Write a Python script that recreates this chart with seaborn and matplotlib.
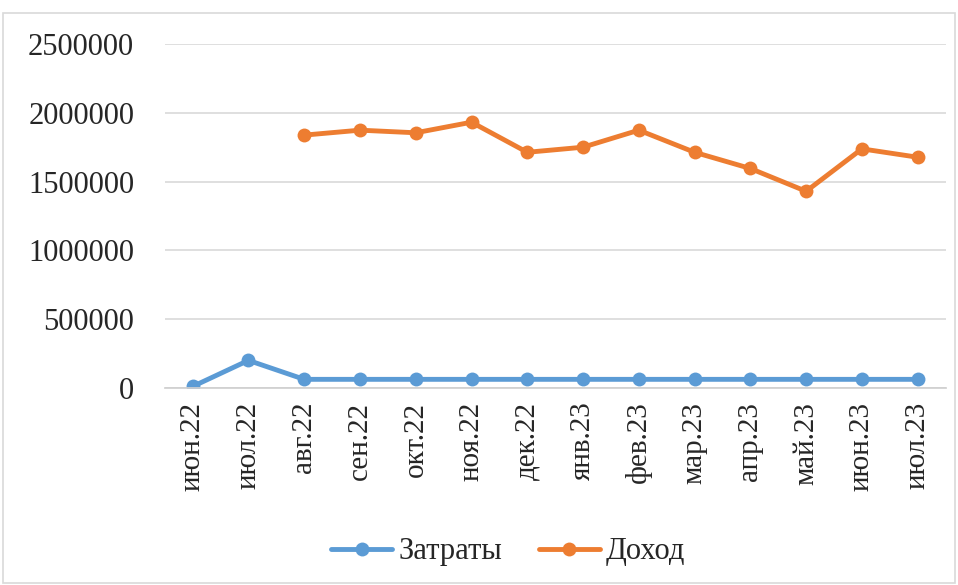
import numpy as np
import pandas as pd
import matplotlib
matplotlib.use("Agg")
import matplotlib.pyplot as plt
import seaborn as sns

# -----------------------------
# data
# -----------------------------
months = ["июн.22", "июл.22", "авг.22", "сен.22", "окт.22", "ноя.22", "дек.22",
          "янв.23", "фев.23", "мар.23", "апр.23", "май.23", "июн.23", "июл.23"]
costs = [10000, 200000, 62000, 62000, 62000, 62000, 62000,
         62000, 62000, 62000, 62000, 62000, 62000, 62000]
income = [np.nan, np.nan, 1840000, 1876000, 1857000, 1934000, 1715000,
          1752000, 1876000, 1715000, 1597000, 1431000, 1740000, 1679000]

df = pd.DataFrame({
    "month": months * 2,
    "value": costs + income,
    "series": ["Затраты"] * len(months) + ["Доход"] * len(months),
})
df["x"] = list(range(len(months))) * 2

# -----------------------------
# plot
# -----------------------------
sns.set_theme(style="white")
plt.rcParams["font.family"] = ["Liberation Serif", "DejaVu Serif"]

fig = plt.figure(figsize=(9.58, 5.85), dpi=100)
ax = fig.add_axes([0.172, 0.337, 0.815, 0.587])

sns.lineplot(data=df, x="x", y="value", hue="series",
             palette={"Затраты": "#5B9BD5", "Доход": "#ED7D31"},
             marker="o", markersize=10, markeredgewidth=0, linewidth=3.5,
             ax=ax)

ax.set_ylim(0, 2500000)
ax.set_yticks(range(0, 2500001, 500000))
ax.set_yticklabels([str(v) for v in range(0, 2500001, 500000)], fontsize=22)
ax.set_xlim(-0.5, len(months) - 0.5)
ax.set_xticks(range(len(months)))
ax.set_xticklabels(months, rotation=90, fontsize=21)
ax.set_xticks(np.arange(-0.5, len(months), 1), minor=True)
ax.tick_params(axis="x", which="major", length=0, pad=10)
ax.tick_params(axis="x", which="minor", length=6, color="#d0d0d0", width=1)
ax.tick_params(axis="y", length=0, pad=22)
ax.yaxis.grid(True, color="#d9d9d9", linewidth=1.2)
ax.set_axisbelow(True)
for s in ["top", "right", "left"]:
    ax.spines[s].set_visible(False)
ax.spines["bottom"].set_color("#d0d0d0")
ax.set_xlabel("")
ax.set_ylabel("")

ax.legend(title=None, loc="upper center", bbox_to_anchor=(0.44, -0.355),
          ncol=2, frameon=False, fontsize=22, handlelength=2.0,
          handletextpad=0.2, columnspacing=1.2)

fig.patches.append(plt.Rectangle((0.003, 0.003), 0.994, 0.975,
                                 transform=fig.transFigure, fill=False,
                                 edgecolor="#d9d9d9", linewidth=1.2))

plt.savefig("out.png", dpi=100)
